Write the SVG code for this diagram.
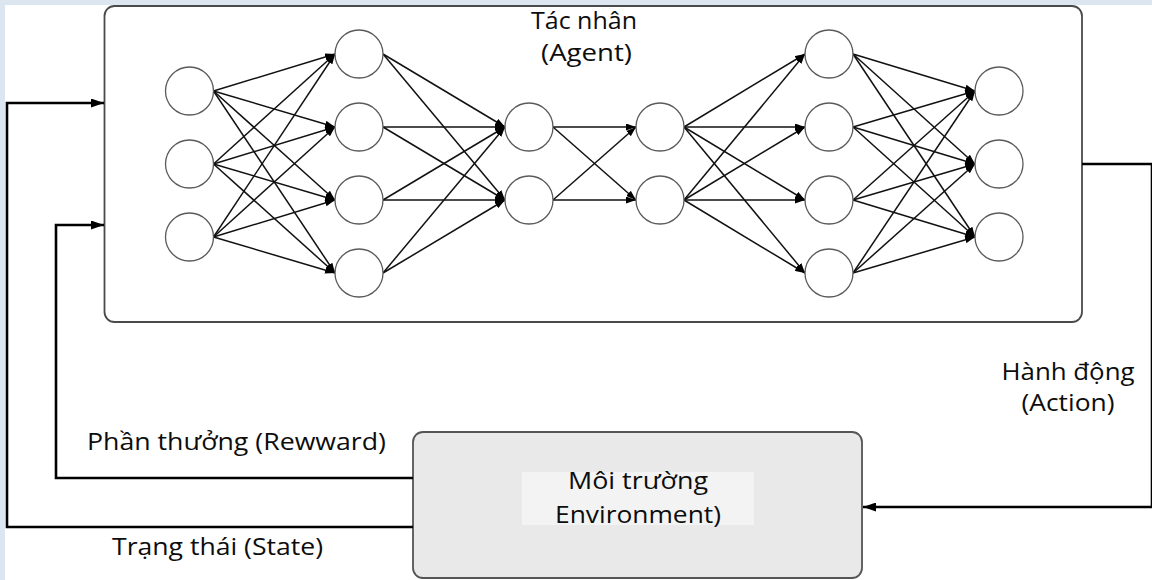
<svg xmlns="http://www.w3.org/2000/svg" width="1152" height="580" viewBox="0 0 1152 580">
  <defs>
    <marker id="tip" markerUnits="userSpaceOnUse" markerWidth="10" markerHeight="7" refX="10" refY="3.5" orient="auto">
      <path d="M0,0 L10,3.5 L0,7 z" fill="#000"/>
    </marker>
    <marker id="tipBig" markerUnits="userSpaceOnUse" markerWidth="13" markerHeight="9" refX="13" refY="4.5" orient="auto">
      <path d="M0,0 L13,4.5 L0,9 z" fill="#000"/>
    </marker>
  </defs>
  <style>
    .frame { fill: #dce6f1; }
    .agent { fill: #ffffff; stroke: #4a4a4a; stroke-width: 1.8; }
    .env { fill: #e9e9e9; stroke: #555555; stroke-width: 1.8; }
    .envlabel { fill: #f3f3f3; }
    .neuron { fill: #ffffff; stroke: #5a5a5a; stroke-width: 1.3; }
    .edge { stroke: #111111; stroke-width: 1.5; marker-end: url(#tip); }
    .link { fill: none; stroke: #000000; stroke-width: 2.6; marker-end: url(#tipBig); }
    text { font-family: "Open Sans", "Noto Sans", "Liberation Sans", sans-serif; font-size: 23px; fill: #0d0d0d; text-anchor: middle; }
  </style>

  <!-- page background with light blue margins on top and left -->
  <rect x="0" y="0" width="1152" height="580" fill="#ffffff"/>
  <rect class="frame" x="0" y="0" width="1152" height="5"/>
  <rect class="frame" x="0" y="0" width="5" height="580"/>

  <!-- Agent: neural network container -->
  <g id="agent">
    <rect class="agent" x="104.5" y="6" width="977.5" height="316" rx="10"/>
    <text x="584" y="29" textLength="106" lengthAdjust="spacingAndGlyphs">Tác nhân</text>
    <text x="586.5" y="61" textLength="91" lengthAdjust="spacingAndGlyphs">(Agent)</text>
  </g>

  <!-- Network edges -->
  <g id="edges">
    <!-- input layer to hidden layer 1 -->
    <line class="edge" x1="213.5" y1="91" x2="335" y2="54"/>
    <line class="edge" x1="213.5" y1="91" x2="335" y2="127"/>
    <line class="edge" x1="213.5" y1="91" x2="335" y2="200"/>
    <line class="edge" x1="213.5" y1="91" x2="335" y2="273"/>
    <line class="edge" x1="213.5" y1="164" x2="335" y2="54"/>
    <line class="edge" x1="213.5" y1="164" x2="335" y2="127"/>
    <line class="edge" x1="213.5" y1="164" x2="335" y2="200"/>
    <line class="edge" x1="213.5" y1="164" x2="335" y2="273"/>
    <line class="edge" x1="213.5" y1="237" x2="335" y2="54"/>
    <line class="edge" x1="213.5" y1="237" x2="335" y2="127"/>
    <line class="edge" x1="213.5" y1="237" x2="335" y2="200"/>
    <line class="edge" x1="213.5" y1="237" x2="335" y2="273"/>
    <!-- hidden layer 1 to hidden layer 2 -->
    <line class="edge" x1="383" y1="54" x2="505" y2="127"/>
    <line class="edge" x1="383" y1="54" x2="505" y2="200"/>
    <line class="edge" x1="383" y1="127" x2="505" y2="127"/>
    <line class="edge" x1="383" y1="127" x2="505" y2="200"/>
    <line class="edge" x1="383" y1="200" x2="505" y2="127"/>
    <line class="edge" x1="383" y1="200" x2="505" y2="200"/>
    <line class="edge" x1="383" y1="273" x2="505" y2="127"/>
    <line class="edge" x1="383" y1="273" x2="505" y2="200"/>
    <!-- hidden layer 2 to hidden layer 3 -->
    <line class="edge" x1="553" y1="127" x2="636" y2="127"/>
    <line class="edge" x1="553" y1="127" x2="636" y2="200"/>
    <line class="edge" x1="553" y1="200" x2="636" y2="127"/>
    <line class="edge" x1="553" y1="200" x2="636" y2="200"/>
    <!-- hidden layer 3 to hidden layer 4 -->
    <line class="edge" x1="684" y1="127" x2="805" y2="54"/>
    <line class="edge" x1="684" y1="127" x2="805" y2="127"/>
    <line class="edge" x1="684" y1="127" x2="805" y2="200"/>
    <line class="edge" x1="684" y1="127" x2="805" y2="273"/>
    <line class="edge" x1="684" y1="200" x2="805" y2="54"/>
    <line class="edge" x1="684" y1="200" x2="805" y2="127"/>
    <line class="edge" x1="684" y1="200" x2="805" y2="200"/>
    <line class="edge" x1="684" y1="200" x2="805" y2="273"/>
    <!-- hidden layer 4 to output layer -->
    <line class="edge" x1="853" y1="54" x2="975" y2="91"/>
    <line class="edge" x1="853" y1="54" x2="975" y2="164"/>
    <line class="edge" x1="853" y1="54" x2="975" y2="237"/>
    <line class="edge" x1="853" y1="127" x2="975" y2="91"/>
    <line class="edge" x1="853" y1="127" x2="975" y2="164"/>
    <line class="edge" x1="853" y1="127" x2="975" y2="237"/>
    <line class="edge" x1="853" y1="200" x2="975" y2="91"/>
    <line class="edge" x1="853" y1="200" x2="975" y2="164"/>
    <line class="edge" x1="853" y1="200" x2="975" y2="237"/>
    <line class="edge" x1="853" y1="273" x2="975" y2="91"/>
    <line class="edge" x1="853" y1="273" x2="975" y2="164"/>
    <line class="edge" x1="853" y1="273" x2="975" y2="237"/>
  </g>

  <!-- Network neurons -->
  <g id="layer-input">
    <circle class="neuron" cx="189.5" cy="91" r="24"/>
    <circle class="neuron" cx="189.5" cy="164" r="24"/>
    <circle class="neuron" cx="189.5" cy="237" r="24"/>
  </g>
  <g id="layer-hidden-1">
    <circle class="neuron" cx="359" cy="54" r="24"/>
    <circle class="neuron" cx="359" cy="127" r="24"/>
    <circle class="neuron" cx="359" cy="200" r="24"/>
    <circle class="neuron" cx="359" cy="273" r="24"/>
  </g>
  <g id="layer-hidden-2">
    <circle class="neuron" cx="529" cy="127" r="24"/>
    <circle class="neuron" cx="529" cy="200" r="24"/>
  </g>
  <g id="layer-hidden-3">
    <circle class="neuron" cx="660" cy="127" r="24"/>
    <circle class="neuron" cx="660" cy="200" r="24"/>
  </g>
  <g id="layer-hidden-4">
    <circle class="neuron" cx="829" cy="54" r="24"/>
    <circle class="neuron" cx="829" cy="127" r="24"/>
    <circle class="neuron" cx="829" cy="200" r="24"/>
    <circle class="neuron" cx="829" cy="273" r="24"/>
  </g>
  <g id="layer-output">
    <circle class="neuron" cx="999" cy="91" r="24"/>
    <circle class="neuron" cx="999" cy="164" r="24"/>
    <circle class="neuron" cx="999" cy="237" r="24"/>
  </g>

  <!-- Environment -->
  <g id="environment">
    <rect class="env" x="413" y="432" width="449" height="146" rx="10"/>
    <rect class="envlabel" x="522" y="472" width="232" height="53"/>
    <text x="638" y="489" textLength="140" lengthAdjust="spacingAndGlyphs">Môi trường</text>
    <text x="638" y="523" textLength="166" lengthAdjust="spacingAndGlyphs">Environment)</text>
  </g>

  <!-- Loop connectors between agent and environment -->
  <g id="connectors">
    <path class="link" d="M1082,164 H1152 V507 H863"/>
    <path class="link" d="M413,478 H56 V225 H104"/>
    <path class="link" d="M413,527 H7 V103 H104"/>
  </g>

  <!-- Connector labels -->
  <g id="labels">
    <text x="1068" y="380" textLength="133" lengthAdjust="spacingAndGlyphs">Hành động</text>
    <text x="1068" y="411" textLength="93" lengthAdjust="spacingAndGlyphs">(Action)</text>
    <text x="236.5" y="450" textLength="299" lengthAdjust="spacingAndGlyphs">Phần thưởng (Rewward)</text>
    <text x="217.5" y="555" textLength="211" lengthAdjust="spacingAndGlyphs">Trạng thái (State)</text>
  </g>
</svg>
